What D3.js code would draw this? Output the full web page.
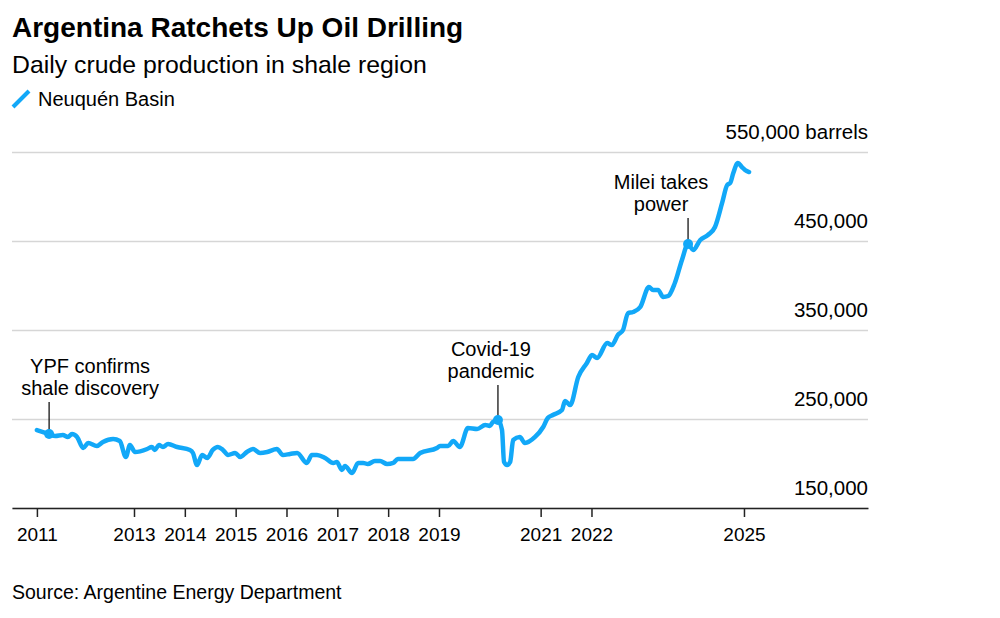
<!DOCTYPE html>
<html>
<head>
<meta charset="utf-8">
<script src="https://cdn.jsdelivr.net/npm/d3@7"></script>
<style>
  body { margin: 0; background: #fff; }
  svg { font-family: "Liberation Sans", Arial, sans-serif; }
</style>
</head>
<body>
<div id="chart"></div>
<script>
// Neuquén Basin daily crude output (barrels)
const years = [
  2011.09, 2011.33, 2011.45, 2011.60, 2011.70, 2011.78, 2011.88, 2012.00, 2012.10, 2012.27,
  2012.39, 2012.59, 2012.72, 2012.84, 2012.92, 2013.02, 2013.26, 2013.35, 2013.41, 2013.49,
  2013.57, 2013.67, 2013.85, 2014.10, 2014.16, 2014.24, 2014.34, 2014.44, 2014.55, 2014.65,
  2014.75, 2014.85, 2014.99, 2015.09, 2015.22, 2015.34, 2015.48, 2015.62, 2015.81, 2015.93,
  2016.07, 2016.21, 2016.40, 2016.50, 2016.60, 2016.76, 2016.92, 2016.99, 2017.09, 2017.15,
  2017.29, 2017.41, 2017.51, 2017.60, 2017.74, 2017.84, 2017.98, 2018.10, 2018.19, 2018.49,
  2018.63, 2018.96, 2019.02, 2019.18, 2019.28, 2019.41, 2019.57, 2019.75, 2019.91, 2020.00,
  2020.06, 2020.16, 2020.24, 2020.28, 2020.34, 2020.40, 2020.46, 2020.59, 2020.69, 2020.89,
  2021.05, 2021.14, 2021.24, 2021.42, 2021.48, 2021.58, 2021.74, 2021.91, 2022.01, 2022.11,
  2022.31, 2022.40, 2022.52, 2022.62, 2022.72, 2022.82, 2022.96, 2023.13, 2023.21, 2023.31,
  2023.41, 2023.51, 2023.64, 2023.78, 2023.90, 2024.00, 2024.14, 2024.29, 2024.43, 2024.57,
  2024.67, 2024.73, 2024.79, 2024.88, 2024.96, 2025.02, 2025.10
];
const production = [
  237600, 233100, 230900, 232000, 229800, 233100, 229800, 217400, 223000, 219700,
  224200, 227500, 225300, 207300, 220800, 212900, 216300, 218500, 215200, 220800,
  218500, 221900, 218500, 215200, 211800, 198300, 209600, 206200, 215200, 218500,
  215200, 209600, 211800, 207300, 212900, 216300, 211800, 212900, 216300, 209600,
  210700, 211800, 200600, 209600, 209600, 206200, 200600, 201700, 192700, 197200,
  189300, 200600, 200600, 199400, 202800, 202800, 199400, 200600, 205100, 205100,
  211800, 217400, 219700, 219700, 225300, 218500, 239900, 238800, 243300, 242100,
  246600, 248900, 237600, 201700, 198300, 201700, 226400, 229800, 223000, 229800,
  241000, 251100, 254500, 260100, 270200, 265700, 297200, 312900, 321900, 318500,
  335400, 333100, 344400, 350000, 369100, 370200, 375800, 398300, 394900, 394900,
  387100, 388200, 402800, 428700, 446600, 439900, 451100, 456700, 465700, 492700,
  512900, 515200, 526400, 537600, 533100, 529800, 527500
];

const yTicks = [150000, 250000, 350000, 450000, 550000];
const xTicks = [years[0], 2013, 2014, 2015, 2016, 2017, 2018, 2019, 2021, 2022, 2025];

const annoYears = [2011.33, 2020.16, 2023.90];
const annoValues = [233100, 248900, 446600];
const annoLabels = [["YPF confirms", "shale discovery"], ["Covid-19", "pandemic"], ["Milei takes", "power"]];
const annoShift = [41, -7, -27]; // label centre offset from the marker
const annoLift = [39, 42, 33];   // marker to last label baseline

const blue = "#12a8f8";

const W = 1000, H = 618;
const plot = {left: 12, right: 868, top: 152, bottom: 508};

const svg = d3.select("#chart").append("svg")
    .attr("width", W)
    .attr("height", H);

svg.append("rect").attr("width", W).attr("height", H).attr("fill", "#fff");

const x = d3.scaleLinear().domain([2010.6, 2027.44]).range([plot.left, plot.right]);
const y = d3.scaleLinear().domain([150000, 550000]).range([plot.bottom, plot.top]);

// titles
svg.append("text")
    .attr("x", 12).attr("y", 37)
    .attr("font-size", 28).attr("font-weight", "bold")
    .text("Argentina Ratchets Up Oil Drilling");
svg.append("text")
    .attr("x", 12).attr("y", 73)
    .attr("font-size", 24.8)
    .text("Daily crude production in shale region");

// legend
svg.append("line")
    .attr("x1", 13).attr("y1", 107).attr("x2", 29).attr("y2", 91)
    .attr("stroke", blue).attr("stroke-width", 4);
svg.append("text")
    .attr("x", 38).attr("y", 106)
    .attr("font-size", 20)
    .text("Neuquén Basin");

// y grid + labels
let yAxis = svg.append("g")
    .attr("transform", "translate(" + plot.right + ",0)")
    .call(d3.axisLeft(y).tickValues(yTicks).tickSize(plot.right - plot.left)
        .tickFormat(function(d) { return d3.format(",")(d) + (d == 550000 ? " barrels" : ""); }));
yAxis.select(".domain").remove();
yAxis.selectAll(".tick line").attr("stroke", "#d6d6d6").attr("stroke-width", 1.3);
yAxis.selectAll(".tick text")
    .attr("x", 0).attr("dy", -13.5)
    .attr("text-anchor", "end")
    .attr("font-size", 20.5)
    .attr("fill", "#000");
yAxis.attr("font-family", null);

// x axis
let xAxis = svg.append("g")
    .attr("transform", "translate(0," + plot.bottom + ")")
    .call(d3.axisBottom(x).tickValues(xTicks).tickSize(9).tickSizeOuter(0).tickPadding(11)
        .tickFormat(function(d) { return Math.floor(d); }));
xAxis.attr("font-family", null);
xAxis.select(".domain").attr("stroke", "#222").attr("stroke-width", 1.5);
xAxis.selectAll(".tick line").attr("stroke", "#222").attr("stroke-width", 1.5);
xAxis.selectAll(".tick text").attr("font-size", 19).attr("fill", "#000");

// line
const line = d3.line()
    .x(function(d, i) { return x(years[i]); })
    .y(function(d) { return y(d); })
    .curve(d3.curveMonotoneX);

svg.append("path")
    .datum(production)
    .attr("fill", "none")
    .attr("stroke", blue)
    .attr("stroke-width", 4.5)
    .attr("stroke-linejoin", "round")
    .attr("stroke-linecap", "round")
    .attr("d", line);

// annotations
annoYears.forEach(function(yr, i) {
    let cx = x(yr), cy = y(annoValues[i]);
    let lines = annoLabels[i];
    let lastBase = cy - annoLift[i];
    svg.append("line")
        .attr("x1", cx).attr("x2", cx)
        .attr("y1", lastBase + 7).attr("y2", cy)
        .attr("stroke", "#000").attr("stroke-width", 1.2);
    svg.append("circle")
        .attr("cx", cx).attr("cy", cy).attr("r", 5)
        .attr("fill", blue);
    lines.forEach(function(t, j) {
        svg.append("text")
            .attr("x", cx + annoShift[i])
            .attr("y", lastBase - (lines.length - 1 - j) * 22)
            .attr("text-anchor", "middle")
            .attr("font-size", 20)
            .text(t);
    });
});

// source
svg.append("text")
    .attr("x", 12).attr("y", 599)
    .attr("font-size", 19.5)
    .text("Source: Argentine Energy Department");
</script>
</body>
</html>
